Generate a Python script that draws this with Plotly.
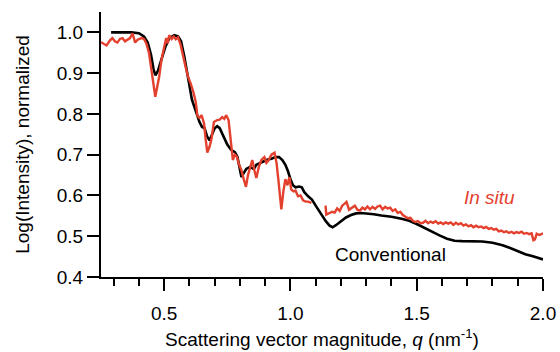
import plotly.graph_objects as go

# Conventional (black)
conv_q = [0.29,0.33,0.37,0.40,0.42,0.435,0.448,0.458,0.465,0.475,0.49,0.505,0.52,0.54,0.555,0.567,0.58,0.59,0.60,0.61,0.62,0.63,0.64,0.65,0.66,0.67,0.68,0.69,0.70,0.71,0.72,0.735,0.75,0.765,0.78,0.79,0.80,0.806,0.815,0.825,0.84,0.855,0.865,0.88,0.895,0.91,0.925,0.94,0.955,0.968,0.98,0.99,1.0,1.01,1.02,1.035,1.045,1.055,1.07,1.085,1.10,1.12,1.14,1.155,1.167,1.18,1.2,1.22,1.24,1.26,1.28,1.30,1.33,1.36,1.40,1.44,1.47,1.50,1.53,1.56,1.59,1.62,1.65,1.68,1.72,1.76,1.80,1.84,1.87,1.90,1.93,1.96,2.0]
conv_i = [1.0,1.0,1.0,0.998,0.99,0.975,0.945,0.91,0.895,0.905,0.935,0.965,0.985,0.993,0.99,0.978,0.94,0.90,0.87,0.835,0.815,0.80,0.78,0.768,0.765,0.745,0.735,0.75,0.765,0.77,0.765,0.745,0.725,0.712,0.706,0.695,0.66,0.645,0.655,0.665,0.67,0.665,0.675,0.68,0.685,0.688,0.69,0.694,0.694,0.687,0.675,0.66,0.64,0.625,0.62,0.622,0.62,0.608,0.598,0.59,0.575,0.555,0.537,0.526,0.522,0.527,0.537,0.546,0.552,0.556,0.557,0.556,0.554,0.551,0.548,0.543,0.538,0.53,0.52,0.51,0.502,0.494,0.489,0.488,0.487,0.487,0.484,0.478,0.471,0.463,0.456,0.451,0.443]

# In situ (red), two segments
insitu_q1 = [0.25,0.26,0.272,0.285,0.295,0.305,0.315,0.325,0.335,0.345,0.355,0.365,0.375,0.385,0.395,0.41,0.42,0.43,0.44,0.45,0.458,0.465,0.472,0.48,0.49,0.50,0.508,0.514,0.52,0.53,0.538,0.546,0.555,0.565,0.575,0.585,0.595,0.605,0.615,0.625,0.632,0.64,0.648,0.658,0.664,0.671,0.68,0.688,0.697,0.71,0.72,0.73,0.738,0.746,0.755,0.762,0.772,0.78,0.788,0.797,0.806,0.815,0.824,0.832,0.838,0.849,0.858,0.865,0.875,0.885,0.897,0.905,0.912,0.925,0.937,0.945,0.952,0.958,0.964,0.972,0.98,0.988,0.996,1.003,1.012,1.02,1.03,1.04,1.05,1.06,1.07,1.083]
insitu_i1 = [0.976,0.972,0.968,0.98,0.986,0.978,0.975,0.984,0.986,0.978,0.983,0.986,0.998,0.975,0.982,0.986,0.984,0.972,0.95,0.907,0.87,0.842,0.865,0.89,0.935,0.964,0.986,0.973,0.993,0.984,0.99,0.983,0.988,0.97,0.94,0.915,0.89,0.875,0.855,0.83,0.795,0.79,0.797,0.777,0.74,0.705,0.72,0.74,0.78,0.785,0.786,0.792,0.788,0.797,0.785,0.74,0.687,0.70,0.695,0.675,0.662,0.64,0.621,0.65,0.665,0.687,0.66,0.643,0.67,0.687,0.694,0.68,0.685,0.70,0.705,0.68,0.64,0.60,0.566,0.61,0.64,0.625,0.645,0.615,0.61,0.612,0.598,0.60,0.588,0.585,0.585,0.582]
insitu_q2 = [1.139,1.142,1.155,1.165,1.175,1.185,1.195,1.205,1.215,1.222,1.232,1.245,1.255,1.265,1.275,1.285,1.295,1.305,1.315,1.325,1.335,1.345,1.355,1.365,1.375,1.385,1.395,1.405,1.415,1.425,1.435,1.445,1.455,1.465,1.475,1.485,1.495,1.505,1.515,1.525,1.535,1.545,1.555,1.565,1.575,1.585,1.595,1.605,1.615,1.625,1.635,1.645,1.655,1.665,1.675,1.685,1.695,1.705,1.715,1.725,1.735,1.745,1.755,1.765,1.775,1.785,1.795,1.805,1.815,1.825,1.835,1.845,1.855,1.865,1.875,1.885,1.895,1.905,1.915,1.925,1.935,1.945,1.955,1.962,1.968,1.975,1.985,2.0]
insitu_i2 = [0.575,0.553,0.557,0.56,0.558,0.568,0.562,0.575,0.58,0.584,0.565,0.57,0.575,0.565,0.563,0.57,0.566,0.573,0.566,0.572,0.567,0.573,0.575,0.566,0.572,0.568,0.57,0.562,0.566,0.557,0.56,0.552,0.548,0.544,0.545,0.538,0.535,0.537,0.532,0.533,0.538,0.532,0.536,0.533,0.537,0.531,0.534,0.53,0.534,0.531,0.534,0.528,0.533,0.529,0.532,0.526,0.529,0.524,0.527,0.522,0.526,0.522,0.524,0.52,0.523,0.518,0.52,0.516,0.518,0.512,0.514,0.51,0.512,0.508,0.511,0.507,0.51,0.508,0.511,0.506,0.508,0.505,0.507,0.49,0.492,0.506,0.503,0.507]

x_tickvals = [0.5, 1.0, 1.5, 2.0]
x_ticktext = ["0.5", "1.0", "1.5", "2.0"]
y_tickvals = [0.4, 0.5, 0.6, 0.7, 0.8, 0.9, 1.0]
y_ticktext = ["0.4", "0.5", "0.6", "0.7", "0.8", "0.9", "1.0"]

RED = "#e3402e"
FONT = "Liberation Sans"

fig = go.Figure()
fig.add_trace(go.Scatter(x=conv_q, y=conv_i, mode="lines",
                         line=dict(color="black", width=2.6), name="Conventional"))
fig.add_trace(go.Scatter(x=insitu_q1 + [None] + insitu_q2,
                         y=insitu_i1 + [None] + insitu_i2, mode="lines",
                         line=dict(color=RED, width=2.4), name="In situ",
                         connectgaps=False))

fig.add_annotation(x=1.79, y=0.594, text="<i>In situ</i>", showarrow=False,
                   font=dict(family=FONT, size=19, color=RED))
fig.add_annotation(x=1.397, y=0.454, text="Conventional", showarrow=False,
                   font=dict(family=FONT, size=19, color="black"))

fig.update_layout(
    width=560, height=352,
    margin=dict(l=101, r=17, t=12, b=75, autoexpand=False),
    paper_bgcolor="white", plot_bgcolor="white",
    showlegend=False,
    font=dict(family=FONT, size=19, color="black"),
    xaxis=dict(range=[0.25, 2.0], showline=True, linecolor="black", linewidth=2,
               showgrid=False, zeroline=False, automargin=False,
               tickvals=x_tickvals, ticktext=x_ticktext,
               ticks="outside", ticklen=12, tickwidth=2, tickcolor="black",
               ticklabelstandoff=6,
               minor=dict(dtick=0.1, tick0=0, ticks="outside", ticklen=7,
                          tickwidth=2, tickcolor="black", showgrid=False),
               tickfont=dict(size=19),
               title=dict(text="Scattering vector magnitude, <i>q</i> (nm<sup>-1</sup>)",
                          font=dict(size=19), standoff=10)),
    yaxis=dict(range=[0.4, 1.05], showline=True, linecolor="black", linewidth=2,
               showgrid=False, zeroline=False, automargin=False,
               tickvals=y_tickvals, ticktext=y_ticktext,
               ticks="outside", ticklen=12, tickwidth=2, tickcolor="black",
               tickfont=dict(size=19),
               title=dict(text="Log(Intensity), normalized", font=dict(size=19),
                          standoff=22)),
)

fig.write_html("out.html", config={"displayModeBar": False},
               post_script="document.body.style.margin='0';document.body.style.overflow='hidden';")
